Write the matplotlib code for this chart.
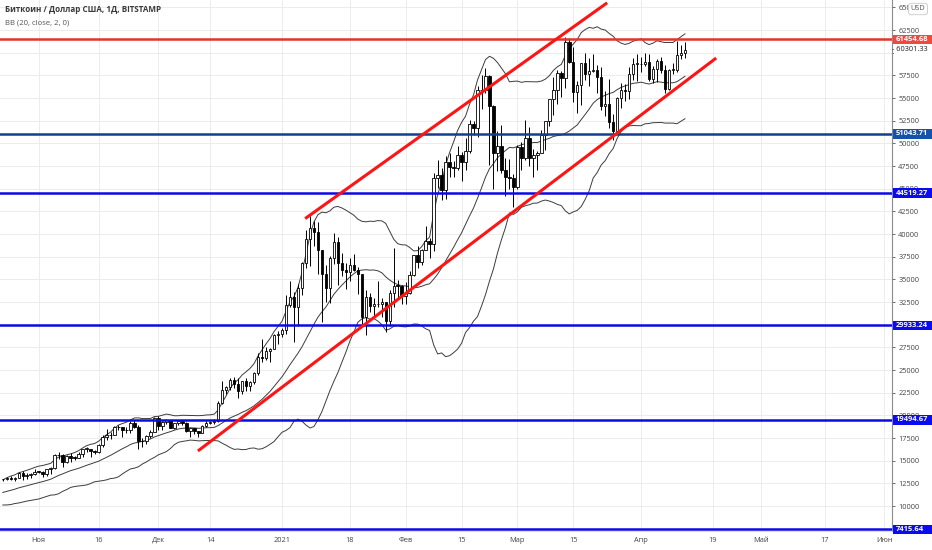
import matplotlib
matplotlib.use("Agg")
import matplotlib.pyplot as plt
import matplotlib.dates as mdates
import matplotlib.transforms as mtransforms
from matplotlib.patches import Rectangle
import pandas as pd
import numpy as np
from datetime import datetime

# ---------------- data ----------------
# warm-up closes (Oct 4 - Oct 22, 2020) used only for Bollinger Bands
warmup_close = [10670, 10790, 10600, 10670, 10920, 11060, 11300, 11380, 11540, 11430,
                11430, 11500, 11330, 11370, 11510, 11750, 11920, 12820, 12990]

start_date = "2020-10-23"
opens = [12990, 12930, 13120, 13030, 13070, 13640, 13270, 13460, 13560,
         13800, 13760, 13550, 14030, 14150, 15590, 15580, 14830, 15480, 15330, 15300, 15700, 16290, 16330, 16070, 15960,
         16730, 17660, 17790, 17820, 18680, 18710, 18420, 18370, 19160, 18720, 17150, 17140, 17720, 18180,
         19700, 18790, 19220, 19440, 18650, 19150, 19360, 19170, 18320, 18550, 18250, 18030, 18800, 19170, 19270,
         19430, 21330, 22800, 23130, 23850, 23470, 22740, 23820, 23240, 23730, 24700, 26490, 26280, 27080, 27360, 28860,
         28990, 29390, 32200, 33000, 31990, 34000, 36820, 39470, 40670, 40240, 38240, 35550, 34050, 37370, 39150, 36830,
         36010, 35820, 36630, 36020, 35540, 30830, 33010, 32100, 32280, 32260, 32500, 30430, 33470, 34320, 34300,
         33110, 33540, 35510, 37660, 36950, 38290, 39260, 38900, 46200, 46480, 44840, 47990, 47390, 47230, 48720,
         47970, 49140, 52140, 51650, 55890, 55870, 57410, 54090, 48890, 49710, 47050, 46280, 46150,
         45160, 49610, 48380, 50540, 48370, 48760, 48880, 50970, 52410, 54880, 55850, 57790, 57220, 61190,
         59000, 55640, 56470, 58900, 57650, 58030, 58100, 57350, 54080, 54340, 52300, 51320, 55030, 55830, 55780,
         57630, 58760, 58800, 58730, 58970, 57070, 58210, 59120, 58040, 56000, 58090, 58120, 59770, 59990]
highs = [13030, 13170, 13340, 13240, 13790, 13860, 13640, 13690, 14080,
         13900, 13830, 14070, 14270, 15760, 15970, 15770, 15650, 15840, 15470, 15960, 16340, 16480, 16330, 16130,
         16880, 17860, 18480, 18150, 18800, 18960, 18740, 18760, 19420, 19480, 18920, 17450, 17880, 18340, 19860,
         19920, 19330, 19590, 19520, 19170, 19420, 19420, 19290, 18640, 18560, 18280, 18930, 19400, 19340, 19570,
         21550, 23770, 23280, 24170, 24270, 24100, 23840, 24100, 23770, 24780, 26870, 28400, 27500, 27400, 28990,
         29300, 29680, 33300, 34800, 33600, 34440, 36940, 40400, 41950, 41380, 41350, 38240, 36600, 37600, 40100,
         39700, 37900, 36800, 37400, 37850, 36400, 35600, 33800, 33500, 32900, 34800, 32900, 32550, 33800, 38500,
         34900, 34340, 34700, 35900, 37700, 38700, 38300, 40900, 39600, 46700, 48200, 47300, 48600, 48950, 48100,
         49700, 49000, 50600, 52600, 52500, 56300, 57500, 58350, 57520, 54200, 51400, 52000, 48400, 48300, 46600,
         49800, 50200, 52600, 51800, 49400, 49200, 51450, 52400, 54900, 57300, 58100, 58000, 61780, 61600,
         60600, 56900, 58900, 60000, 59400, 59900, 58600, 58400, 55800, 57100, 53200, 55100, 56600, 56500,
         58400, 59400, 59800, 59500, 60000, 59800, 58500, 59300, 59500, 58600, 58200, 58900, 61300, 60800, 61200]
lows = [12730, 12900, 12900, 12780, 13060, 12910, 12980, 13130, 13420,
        13620, 13210, 13300, 13540, 14100, 15200, 14350, 14720, 14800, 15090, 15290, 15450, 15990, 15450, 15770,
        15880, 16560, 17230, 17360, 17780, 18380, 17640, 18000, 18020, 18560, 16300, 16480, 16880, 17550, 18180,
        18330, 18350, 19000, 18580, 18520, 18900, 18900, 18200, 17640, 17930, 17570, 18010, 18720, 19000, 19060,
        19300, 21230, 22350, 22830, 23070, 21900, 22370, 22700, 22700, 23430, 24500, 25850, 26120, 25880, 27340,
        27860, 28620, 28950, 32000, 28130, 29900, 33300, 36300, 36500, 38720, 35550, 30300, 32500, 32400, 36700,
        34400, 35400, 33900, 34800, 35900, 33400, 30100, 28850, 31400, 30900, 31900, 30850, 29240, 29900, 31950,
        32900, 32300, 32300, 33430, 35400, 36200, 36600, 38200, 37400, 38100, 45100, 43800, 43900, 46300, 46300,
        47100, 45900, 47100, 48900, 50900, 50700, 53800, 55500, 47600, 45000, 47000, 46700, 44200, 45000, 43000,
        45000, 47100, 48200, 47500, 46300, 47100, 48880, 49300, 51900, 53100, 54300, 55100, 56100, 58900,
        54600, 53300, 54200, 57000, 56300, 57900, 55500, 53700, 53000, 51700, 50400, 51300, 53900, 54700,
        54900, 57000, 56900, 57900, 58500, 56900, 56600, 56800, 57800, 55500, 55900, 57700, 57900, 59300, 59400]
closes = [12930, 13120, 13030, 13070, 13640, 13270, 13460, 13560, 13800,
          13760, 13550, 14030, 14150, 15590, 15580, 14830, 15480, 15330, 15300, 15700, 16290, 16330, 16070, 15960,
          16730, 17660, 17790, 17820, 18680, 18710, 18420, 18370, 19160, 18720, 17150, 17140, 17720, 18180, 19700,
          18790, 19220, 19440, 18650, 19150, 19360, 19170, 18320, 18550, 18250, 18030, 18800, 19170, 19270, 19430,
          21330, 22800, 23130, 23850, 23470, 22740, 23820, 23240, 23730, 24700, 26490, 26280, 27080, 27360, 28860,
          28990, 29390, 32200, 33000, 31990, 34000, 36820, 39470, 40670, 40240, 38240, 35550, 34050, 37370, 39150,
          36830, 36010, 35820, 36630, 36020, 35540, 30830, 33010, 32100, 32280, 32260, 32500, 30430, 33470, 34320,
          34300, 33110, 33540, 35510, 37660, 36950, 38290, 39260, 38900, 46200, 46480, 44840, 47990, 47390, 47230,
          48720, 47970, 49140, 52140, 51650, 55890, 55870, 57410, 54090, 48890, 49710, 47050, 46280, 46150, 45160,
          49610, 48380, 50540, 48370, 48760, 48880, 50970, 52410, 54880, 55850, 57790, 57220, 61190, 59000,
          55640, 56470, 58900, 57650, 58030, 58100, 57350, 54080, 54340, 52300, 51320, 55030, 55830, 55780,
          57630, 58760, 58800, 58730, 58970, 57070, 58210, 59120, 58040, 56000, 58090, 58120, 59770, 59990, 60301.33]

# horizontal levels
level_values = [61454.68, 51043.71, 44519.27, 29933.24, 19494.67, 7415.64]
level_line_colors = ["#e0342c", "#123f8f", "#0a0ae6", "#0a0ae6", "#0a0ae6", "#0a0ae6"]
level_label_colors = ["#f04a3e", "#1453ad", "#0b0bf2", "#0b0bf2", "#0b0bf2", "#0b0bf2"]

# channel trend lines
upper_channel_dates = ["2021-01-06 19:00", "2021-03-23 12:00"]
upper_channel_prices = [41700, 65500]
lower_channel_dates = ["2020-12-10 22:00", "2021-04-19 20:00"]
lower_channel_prices = [16070, 59410]

last_price = 60301.33

xtick_dates = ["2020-11-01", "2020-11-16", "2020-12-01", "2020-12-14", "2021-01-01", "2021-01-18",
               "2021-02-01", "2021-02-15", "2021-03-01", "2021-03-15", "2021-04-01", "2021-04-19",
               "2021-05-01", "2021-05-17", "2021-06-01"]
xtick_labels = ["Ноя", "16", "Дек", "14", "2021", "18", "Фев", "15", "Мар", "15", "Апр", "19",
                "Май", "17", "Июн"]
ytick_values = [10000, 12500, 15000, 17500, 20000, 22500, 25000, 27500, 30000, 32500, 35000,
                37500, 40000, 42500, 45000, 47500, 50000, 52500, 55000, 57500, 60000, 62500, 65000]
hidden_ytick_labels = [30000, 60000]   # covered by price labels in the reference

title_text = "Биткоин / Доллар США, 1Д, BITSTAMP"
indicator_text = "BB (20, close, 2, 0)"

# ---------------- figure ----------------
plt.rcParams['font.family'] = ['Open Sans', 'DejaVu Sans']
W, H = 932, 550
fig = plt.figure(figsize=(W / 100, H / 100), dpi=100)
ax = fig.add_axes([0, 19 / H, 892 / W, 531 / H])

dates = pd.date_range(start_date, periods=len(closes), freq="D")
x = mdates.date2num(dates.to_pydatetime())
o = np.array(opens, float); h = np.array(highs, float)
l = np.array(lows, float); c = np.array(closes, float)

# Bollinger bands
allc = pd.Series(list(warmup_close) + list(closes), dtype=float)
mid = allc.rolling(20).mean().values[len(warmup_close):]
sd = allc.rolling(20).std(ddof=0).values[len(warmup_close):]
up_b = mid + 2 * sd
lo_b = mid - 2 * sd
for band in (up_b, mid, lo_b):
    ax.plot(x, band, color="#3c3c3c", lw=0.7, zorder=3)

# candles
up = c >= o
ax.vlines(x, l, h, color="black", lw=0.7, zorder=4)
body_h = np.maximum(np.abs(c - o), 60)
ax.bar(x, body_h, bottom=np.minimum(o, c), width=0.62,
       color=np.where(up, "white", "black"), edgecolor="black", lw=0.6, zorder=5)

# horizontal levels
for v, lc in zip(level_values, level_line_colors):
    ax.axhline(v, color=lc, lw=1.8, zorder=6)

# channel lines
ax.plot(mdates.date2num(pd.to_datetime(upper_channel_dates).to_pydatetime()), upper_channel_prices,
        color="#ff1414", lw=2.2, solid_capstyle="butt", zorder=7)
ax.plot(mdates.date2num(pd.to_datetime(lower_channel_dates).to_pydatetime()), lower_channel_prices,
        color="#ff1414", lw=2.2, solid_capstyle="butt", zorder=7)

# axes limits
base = mdates.date2num(datetime(2020, 11, 1))
ax.set_xlim(base - 9.7, base + 213.9)
ax.set_ylim(7245, 65809)

ax.set_xticks(mdates.date2num(pd.to_datetime(xtick_dates).to_pydatetime()))
ax.set_xticklabels(xtick_labels)
ax.set_yticks(ytick_values)
ax.set_yticklabels(["" if v in hidden_ytick_labels else str(v) for v in ytick_values])
ax.grid(True, color="#ececec", lw=0.7, zorder=0)
ax.set_axisbelow(True)

ax.tick_params(axis="x", length=0, pad=4, labelsize=5.3, labelcolor="#444444")
ax.tick_params(axis="y", left=False, labelleft=False, right=True, labelright=True,
               length=2.5, width=0.6, color="#555555", pad=2, labelsize=5.3, labelcolor="#444444")
for s in ("left", "top"):
    ax.spines[s].set_visible(False)
ax.spines["right"].set_color("#8a8a8a")
ax.spines["right"].set_linewidth(0.8)
ax.spines["bottom"].set_color("#d6d6d6")
ax.spines["bottom"].set_linewidth(0.6)

# price labels on the right axis (boxes span axis to figure edge)
px_per_unit = (531) / (65809 - 7245)
box_h = 9.5 / px_per_unit
bt = mtransforms.blended_transform_factory(fig.transFigure, ax.transData)
for v, bc in zip(level_values, level_label_colors):
    ax.add_patch(Rectangle((892.5 / W, v - box_h / 2), 39.5 / W, box_h, transform=bt,
                           facecolor=bc, edgecolor="none", clip_on=False, zorder=19))
    ax.text(896 / W, v, f"{v:.2f}", transform=bt, ha="left", va="center",
            fontsize=5.4, color="white", fontweight="bold", clip_on=False, zorder=20)
ax.add_patch(Rectangle((893.5 / W, last_price - box_h / 2), 38 / W, box_h, transform=bt,
                       facecolor="white", edgecolor="none", clip_on=False, zorder=19))
ax.text(892 / W, last_price, "- " + f"{last_price:.2f}", transform=bt, ha="left", va="center",
        fontsize=5.3, color="#222222", clip_on=False, zorder=20)
fig.text(918 / W, 1 - 9 / H, "USD", ha="center", va="center", fontsize=5.3, color="#555555",
         bbox=dict(boxstyle="round,pad=0.3,rounding_size=0.4", fc="white", ec="#c8c8c8", lw=0.6),
         zorder=30)

# titles
fig.text(5 / W, 1 - 10 / H, title_text, ha="left", va="center", fontsize=5.8,
         fontweight="bold", color="#3a3a3a")
fig.text(5 / W, 1 - 23 / H, indicator_text, ha="left", va="center", fontsize=5.6,
         color="#555555")

fig.savefig("out.png", dpi=100)
